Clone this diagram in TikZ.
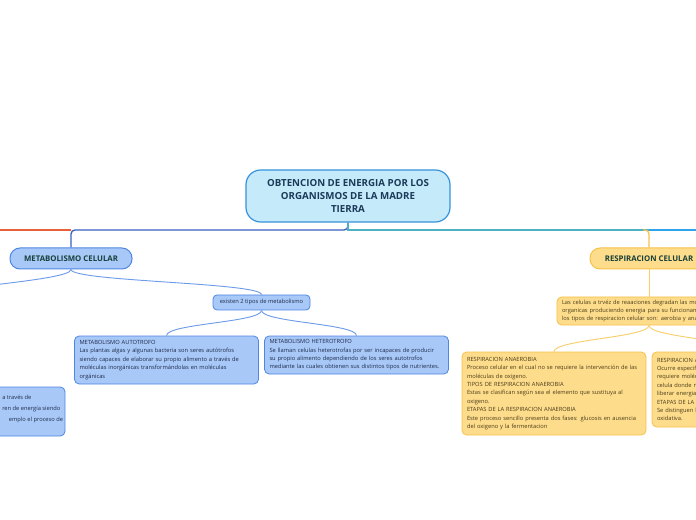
\documentclass[tikz,border=0pt]{standalone}
\usepackage{fontspec}
\setmainfont{Open Sans}
\usetikzlibrary{calc}
\definecolor{cFill}{HTML}{C5EBFB}
\definecolor{cBorder}{HTML}{3592DA}
\definecolor{cTitle}{HTML}{1C3A58}
\definecolor{bFill}{HTML}{A8C8F8}
\definecolor{bBorder}{HTML}{4F86E2}
\definecolor{bLine}{HTML}{6E9CE8}
\definecolor{bText}{HTML}{1E2B48}
\definecolor{mText}{HTML}{17403A}
\definecolor{yFill}{HTML}{FDDC8B}
\definecolor{yBorder}{HTML}{F6C24C}
\definecolor{yLine}{HTML}{F7CF6A}
\definecolor{yText}{HTML}{4A3C1A}
\definecolor{oLine}{HTML}{E8603A}
\definecolor{dLine}{HTML}{3A5FC2}
\definecolor{tLine}{HTML}{4FB0C4}
\definecolor{sLine}{HTML}{2FA4EA}
\tikzset{
  central/.style={draw=cBorder, fill=cFill, line width=0.9pt, rounded corners=11pt,
    minimum width=153pt, minimum height=39pt, align=center, inner sep=0pt,
    font=\fontsize{7.3}{10}\selectfont\bfseries, text=cTitle},
  mainbox/.style={line width=0.75pt, rounded corners=7.5pt, minimum width=91.5pt,
    minimum height=15.75pt, inner sep=0pt, font=\fontsize{5.85}{7}\selectfont\bfseries},
  mainblue/.style={mainbox, draw=bBorder, fill=bFill, text=mText},
  mainyellow/.style={mainbox, draw=yBorder, fill=yFill, text=mText},
  subbox/.style={line width=0.6pt, rounded corners=3.5pt, text width=130.5pt, align=left,
    inner xsep=3.75pt, inner ysep=2pt, font=\fontsize{4.3}{6.3}\selectfont},
  bsub/.style={subbox, draw=bBorder, fill=bFill, text=bText},
  ysub/.style={subbox, draw=yBorder, fill=yFill, text=yText},
  smallblue/.style={line width=0.6pt, rounded corners=3pt, draw=bBorder, fill=bFill, text=bText,
    minimum width=72.75pt, minimum height=11.25pt, inner sep=0pt, font=\fontsize{4.3}{6}\selectfont},
  plaintext/.style={inner sep=0pt, align=left, text=bText, font=\fontsize{4.3}{8.1}\selectfont},
  bline/.style={draw=bLine, line width=0.7pt},
  yline/.style={draw=yLine, line width=0.7pt},
  link/.style={out=-90, in=90, out distance=9pt, in distance=9pt},
}
\begin{document}
\begin{tikzpicture}[x=0.75pt,y=-0.75pt]
\useasboundingbox (0,0) rectangle (696,520);
\clip (0,0) rectangle (696,520);

% nodes
\node[central] (ct) at (348,196) {OBTENCION DE ENERGIA POR LOS\\ORGANISMOS DE LA MADRE\\TIERRA};
\node[mainblue] (mc) at (71,258.5) {METABOLISMO CELULAR};
\node[mainyellow, minimum width=88.5pt] (rc) at (649,258.5) {RESPIRACION CELULAR};
\node[smallblue] (ex) at (261.5,302.5) {existen 2 tipos de metabolismo};
\node[bsub, minimum height=36pt] (au) at (166.5,360) {METABOLISMO AUTOTROFO\\Las plantas algas y algunas bacteria son seres autótrofos\\siendo capaces de elaborar su propio alimento a través de\\moléculas inorgánicas transformándolas en moléculas\\orgánicas};
\node[bsub, minimum height=28.5pt] (he) at (356.5,355) {METABOLISMO HETEROTROFO\\Se llaman celulas heterotrofas por ser incapaces de producir\\su propio alimento dependiendo de los seres autotrofos\\mediante las cuales obtienen sus distintos tipos de nutrientes.};
\node[bsub, minimum height=36.75pt] (lp) at (-27,411.5) {};
\node[plaintext, anchor=north west] (lpt) at (2,395) {a través de\\ren de energía siendo\\\hspace*{5pt}emplo el proceso de};
\node[ysub, minimum height=21pt] (ds) at (649,311) {Las celulas a trvéz de reaaciones degradan las moleculas\\organicas produciendo energia para su funcionamiento\\los tipos de respiracion celular son: aerobia y anaerobia};
\node[ysub, minimum height=62.25pt] (an) at (554,393.5) {RESPIRACION ANAEROBIA\\Proceso celular en el cual no se requiere la intervención de las\\moléculas de oxigeno.\\TIPOS DE RESPIRACION ANAEROBIA\\Estas se clasifican según sea el elemento que sustituya al\\oxigeno.\\ETAPAS DE LA RESPIRACION ANAEROBIA\\Este proceso sencillo presenta dos fases: glucosis en ausencia\\del oxigeno y la fermentacion};
\node[ysub, minimum height=56.25pt] (ae) at (744,389.5) {RESPIRACION AEROBIA\\Ocurre especificamente en las mitocondrias y\\requiere moléculas de oxigeno dentro de la\\celula donde necesita el oxigeno para\\liberar energia.\\ETAPAS DE LA RESPIRACION AEROBIA\\Se distinguen la glucolisis y la fosforilación\\oxidativa.};

% trunk lines
\coordinate (jl) at (71,230);
\coordinate (jr) at (649,230);
\coordinate (jy) at (643,230);
\coordinate (edgeL) at (-10,230);
\coordinate (edgeR) at (706,230);
\coordinate (offL) at (-80,300);
\coordinate (offR) at (744,352);
\draw[draw=oLine, line width=1pt] (jl) -- (edgeL);
\draw[draw=sLine, line width=1pt] (jr) -- (edgeR);
\draw[draw=dLine, line width=1pt, rounded corners=3pt] (ct.south) |- (jl) -- (mc.north);
\draw[draw=tLine, line width=1pt] (ct.south) |- (jr);
\draw[draw=yBorder, line width=1pt, rounded corners=3pt] (jy) -| (rc.north);

% branches
\draw[bline] (mc.south) to[link] (offL);
\draw[bline] (mc.south) to[link] (ex.north);
\draw[bline] (ex.south) to[link] (au.north);
\draw[bline] (ex.south) to[link] (he.north);
\draw[yline] (rc.south) -- (ds.north);
\draw[yline] (ds.south) to[link] (an.north);
\draw[yline] (ds.south) to[link] (offR);
\end{tikzpicture}
\end{document}
